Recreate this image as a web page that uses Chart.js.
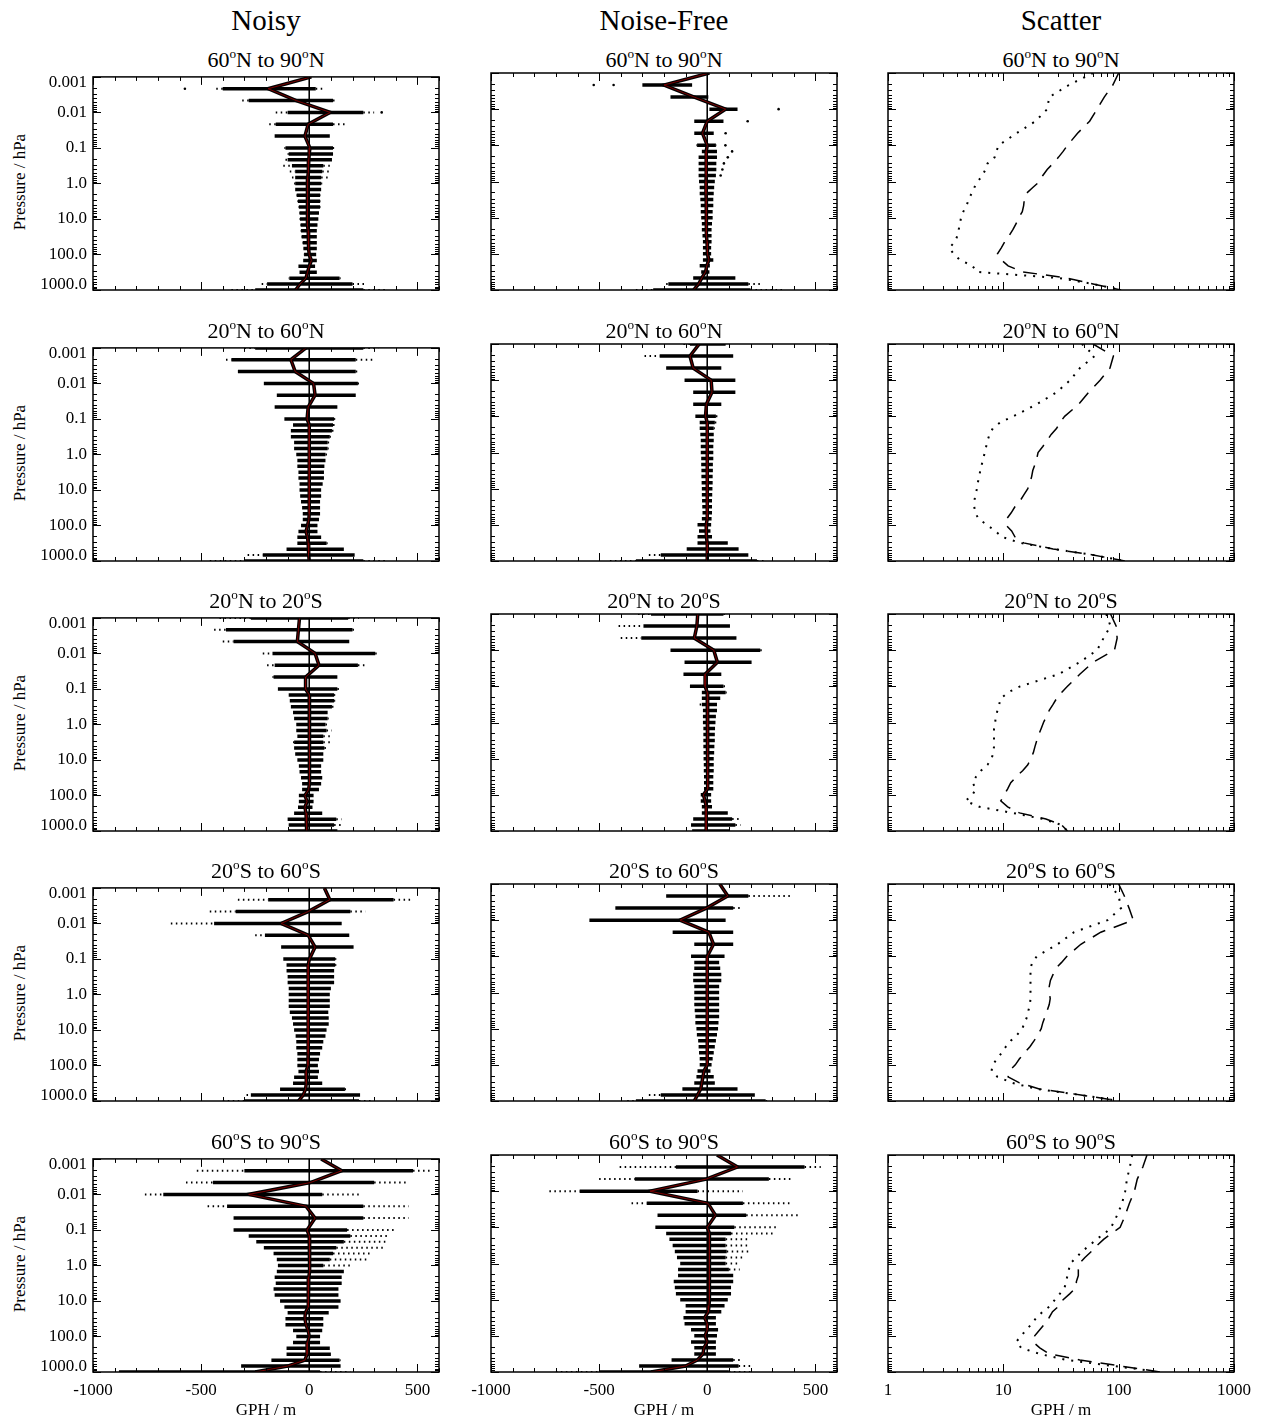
<!DOCTYPE html>
<html>
<head>
<meta charset="utf-8">
<script src="https://cdn.jsdelivr.net/npm/chart.js@4/dist/chart.umd.min.js"></script>
<style>
  html, body { margin: 0; padding: 0; background: #fff; }
  #page { position: relative; width: 1266px; height: 1420px; overflow: hidden;
          font-family: "Liberation Serif", "Times New Roman", serif; color: #000; }
  #page canvas { position: absolute; }
  .txt { position: absolute; white-space: nowrap; line-height: 1; transform: translateX(-50%); }
  .deg { font-size: 0.6em; vertical-align: 0.68em; }
  .ytitle { position: absolute; white-space: nowrap; line-height: 1; font-size: 17px;
            transform: translate(-50%, -50%) rotate(-90deg); }
</style>
</head>
<body>
<div id="page"></div>
<script>
// ---------------------------------------------------------------------------
// Pressure levels (hPa), from the top of the profile downwards
const LEVELS = [0.001, 0.00215, 0.00464, 0.01, 0.0215, 0.0464, 0.1, 0.147, 0.215, 0.316,
  0.464, 0.681, 1.0, 1.47, 2.15, 3.16, 4.64, 6.81, 10, 14.7, 21.5, 31.6, 46.4, 68.1,
  100, 147, 215, 316, 464, 681, 1000];

const COLUMN_TITLES = ['Noisy', 'Noise-Free', 'Scatter'];
// latitude bands: [lat1, hemisphere1, lat2, hemisphere2]
const BANDS = [['60', 'N', '90', 'N'], ['20', 'N', '60', 'N'], ['20', 'N', '20', 'S'],
  ['20', 'S', '60', 'S'], ['60', 'S', '90', 'S']];

const Y_TICK_LABELS = ['0.001', '0.01', '0.1', '1.0', '10.0', '100.0', '1000.0'];
const GPH_TICK_LABELS = ['-1000', '-500', '0', '500'];
const SCATTER_TICK_LABELS = ['1', '10', '100', '1000'];

// Mean GPH difference profiles (m), one value per level
const noisyMean6090N = [10, -190, -60, 97, -5, -20, 3, 0, -2, -3, -5, -7, -10, -10, -9, -8, -8, -8, -8, -6, -5, -4, -3, -2, 0, 10, 0, -8, -15, -43, -63];
const freeMean6090N = [10, -200, -60, 85, 0, -22, 0, -5, -5, -5, -5, -5, -6, -6, -6, -5, -5, -5, -5, -4, -3, -2, -1, 0, 2, 8, -2, -8, -25, -40, -63];
const noisyMean2060N = [-15, -85, -65, 20, 27, -5, -10, 0, 0, 0, 0, 0, 0, 0, 0, 0, 0, 0, 0, 0, 0, 0, 0, -2, -8, -15, -8, -5, -3, -2, 0];
const freeMean2060N = [-37, -80, -65, 18, 22, -4, -8, 0, 0, 0, 0, 0, 0, 0, 0, 0, 0, 0, 0, 0, 0, 0, 0, 0, -5, -5, -3, 0, 0, 0, 0];
const noisyMean20N20S = [-45, -50, -55, 27, 45, -17, -17, 0, 2, 3, 3, 3, 2, 2, 1, 0, 0, 0, 0, 0, 0, 0, 0, -3, -20, -10, -20, -15, -12, -12, -12];
const freeMean20N20S = [-44, -48, -60, 30, 47, -10, -10, 0, 2, 2, 2, 2, 2, 2, 2, 2, 2, 2, 2, 2, 2, 2, 1, 0, -18, -10, -5, -5, -5, -5, -5];
const noisyMean2060S = [70, 95, -5, -130, -5, 27, 1, -5, -5, -5, -5, -5, -5, -5, -5, -5, -5, -5, -5, -5, -5, -5, -5, -6, -6, -15, -12, -15, -17, -28, -50];
const freeMean2060S = [58, 95, -4, -126, 7, 29, 0, 0, 0, 0, 0, 0, 0, 0, 0, 0, 0, 0, 0, 0, 0, 0, 0, 0, 0, -15, -20, -25, -30, -45, -60];
const noisyMean6090S = [55, 150, 5, -280, -15, 27, -10, 0, 2, 2, 2, 2, 2, 0, -2, -5, -5, -5, -2, -5, -18, -20, -15, -5, 0, -8, -10, -10, -20, -100, -250];
const freeMean6090S = [45, 140, -5, -265, 3, 38, 0, 10, 10, 10, 10, 10, 10, 10, 10, 10, 10, 10, 10, 8, 5, -12, 0, 0, -10, 0, -15, -20, -45, -100, -260];

// Spread of the individual differences at each level (m):
// [outermost low, dense low, dense high, outermost high]; null where none are drawn
const noisySpread6090N = [null, [-430, -400, 30, 60], [-310, -280, 110, 120], [-155, -100, 250, 300],
  [-185, -155, 110, 175], [-160, -160, 95, 95], [-115, -110, 110, 115], [-100, -95, 110, 110],
  [-110, -100, 105, 105], [-120, -80, 65, 95], [-90, -65, 60, 95], [-80, -65, 55, 95],
  [-70, -65, 55, 60], [-65, -65, 55, 55], [-60, -58, 50, 52], [-55, -52, 50, 52], [-50, -48, 50, 52],
  [-47, -45, 45, 45], [-45, -43, 42, 42], [-42, -40, 38, 38], [-40, -38, 35, 35], [-37, -35, 35, 35],
  [-32, -30, 35, 35], [-28, -27, 35, 35], [-25, -24, 32, 32], [-28, -28, 35, 35], [-50, -50, 27, 27],
  [-45, -45, 35, 35], [-95, -92, 140, 145], [-220, -195, 200, 260], [-360, -250, 250, 360]];
const freeSpread6090N = [null, [-300, -300, -70, -70], [-170, -170, 5, 5], [10, 10, 140, 140],
  [-60, -60, 75, 75], [-60, -60, 30, 30], [-50, -47, 40, 42], [-25, -25, 45, 45], [-40, -40, 45, 45],
  [-40, -40, 42, 42], [-40, -40, 42, 42], [-40, -40, 40, 40], [-38, -38, 35, 35], [-35, -35, 32, 32],
  [-35, -35, 30, 30], [-32, -32, 28, 28], [-30, -30, 28, 28], [-30, -30, 25, 25], [-28, -28, 25, 25],
  [-25, -25, 22, 22], [-25, -25, 20, 20], [-22, -22, 20, 20], [-20, -20, 20, 20], [-20, -20, 18, 18],
  [-20, -20, 18, 18], [-20, -20, 28, 28], [-35, -35, 12, 12], [-28, -28, 10, 10], [-65, -65, 130, 130],
  [-190, -180, 190, 255], [-330, -250, 200, 355]];
const noisySpread2060N = [[-300, -250, 250, 320], [-385, -360, 215, 295], [-330, -330, 215, 235],
  [-210, -210, 225, 230], [-150, -150, 215, 215], [-160, -160, 130, 130], [-115, -115, 115, 120],
  [-75, -75, 110, 125], [-85, -85, 105, 115], [-85, -85, 95, 100], [-70, -70, 85, 95], [-70, -70, 85, 90],
  [-60, -60, 75, 85], [-55, -55, 75, 75], [-55, -55, 70, 70], [-50, -50, 68, 68], [-50, -50, 68, 68],
  [-45, -45, 62, 62], [-45, -45, 55, 55], [-42, -42, 55, 55], [-38, -38, 50, 50], [-33, -33, 50, 50],
  [-30, -30, 50, 50], [-30, -30, 45, 45], [-38, -38, 38, 38], [-50, -50, 38, 38], [-55, -55, 55, 55],
  [-55, -55, 80, 85], [-105, -105, 160, 160], [-285, -215, 210, 210], [-460, -300, 250, 360]];
const freeSpread2060N = [[-110, -80, 85, 85], [-290, -220, 120, 120], [-190, -190, 65, 65],
  [-105, -105, 130, 130], [-65, -65, 130, 130], [-65, -65, 65, 65], [-55, -55, 40, 50], [-35, -35, 35, 45],
  [-35, -35, 30, 35], [-32, -32, 30, 30], [-30, -30, 30, 30], [-30, -30, 28, 28], [-30, -30, 28, 28],
  [-28, -28, 28, 28], [-28, -28, 26, 26], [-27, -27, 26, 26], [-27, -27, 25, 25], [-26, -26, 25, 25],
  [-25, -25, 24, 24], [-25, -25, 23, 23], [-24, -24, 22, 22], [-23, -23, 22, 22], [-22, -22, 22, 22],
  [-25, -25, 20, 20], [-45, -45, 18, 18], [-38, -38, 15, 15], [-45, -45, 22, 22], [-45, -45, 95, 95],
  [-95, -95, 145, 145], [-270, -215, 190, 190], [-450, -330, 230, 270]];
const noisySpread20N20S = [[-415, -270, 180, 230], [-440, -385, 200, 210], [-400, -350, 185, 185],
  [-215, -170, 305, 315], [-195, -160, 225, 270], [-170, -165, 130, 130], [-145, -145, 130, 140],
  [-95, -95, 115, 120], [-90, -90, 115, 120], [-85, -85, 105, 125], [-75, -75, 85, 85], [-70, -70, 85, 90],
  [-60, -60, 75, 90], [-60, -60, 80, 105], [-55, -55, 65, 95], [-75, -70, 65, 110], [-70, -70, 70, 90],
  [-65, -65, 65, 65], [-55, -55, 65, 65], [-48, -48, 55, 55], [-45, -45, 55, 55], [-38, -38, 60, 60],
  [-33, -33, 55, 55], [-33, -33, 45, 45], [-48, -48, 20, 20], [-48, -48, 20, 20], [-52, -52, 15, 15],
  [-70, -70, 60, 60], [-100, -100, 125, 150], [-95, -95, 115, 160], [-95, -95, 130, 130]];
const freeSpread20N20S = [[-320, -260, 75, 85], [-410, -295, 105, 105], [-400, -305, 135, 135],
  [-170, -170, 245, 255], [-105, -105, 205, 205], [-110, -110, 65, 65], [-80, -80, 75, 85],
  [-25, -25, 85, 90], [-25, -25, 60, 60], [-35, -25, 45, 45], [-20, -20, 45, 45], [-20, -20, 40, 40],
  [-20, -20, 38, 38], [-18, -18, 36, 36], [-18, -18, 35, 35], [-18, -18, 35, 35], [-18, -18, 33, 33],
  [-17, -17, 32, 32], [-17, -17, 30, 30], [-16, -16, 30, 30], [-16, -16, 30, 30], [-15, -15, 28, 28],
  [-15, -15, 28, 28], [-15, -15, 28, 28], [-30, -30, 18, 18], [-30, -30, 18, 18], [-25, -25, 22, 22],
  [-25, -25, 95, 95], [-65, -65, 115, 160], [-75, -75, 130, 155], [-70, -70, 105, 105]];
const noisySpread2060S = [null, [-330, -190, 390, 470], [-460, -340, 190, 260], [-640, -440, 150, 150],
  [-250, -205, 185, 185], [-130, -130, 205, 205], [-120, -120, 120, 125], [-105, -105, 120, 125],
  [-105, -105, 115, 115], [-100, -100, 115, 115], [-100, -100, 115, 115], [-95, -95, 100, 100],
  [-95, -95, 95, 95], [-95, -95, 95, 95], [-95, -95, 95, 95], [-90, -90, 88, 88], [-80, -80, 90, 90],
  [-75, -75, 90, 90], [-70, -70, 80, 80], [-63, -63, 75, 75], [-60, -60, 65, 65], [-60, -60, 60, 60],
  [-55, -55, 50, 50], [-55, -55, 45, 45], [-55, -55, 40, 40], [-50, -50, 45, 45], [-70, -70, 40, 40],
  [-75, -75, 60, 60], [-135, -135, 165, 170], [-290, -270, 235, 235], [-400, -300, 230, 290]];
const freeSpread2060S = [null, [-190, -190, 190, 385], [-425, -425, 120, 150], [-545, -545, 85, 85],
  [-160, -160, 120, 120], [-60, -60, 120, 120], [-75, -75, 80, 80], [-60, -60, 55, 55], [-60, -60, 60, 60],
  [-65, -65, 65, 65], [-65, -65, 65, 65], [-60, -60, 55, 55], [-60, -60, 55, 55], [-60, -60, 55, 55],
  [-60, -60, 55, 55], [-58, -58, 55, 55], [-55, -55, 55, 55], [-55, -55, 52, 52], [-50, -50, 50, 50],
  [-48, -48, 45, 45], [-42, -42, 40, 40], [-40, -40, 35, 35], [-38, -38, 30, 30], [-35, -35, 25, 25],
  [-35, -35, 20, 20], [-45, -45, 15, 15], [-50, -50, 30, 30], [-60, -60, 35, 35], [-115, -115, 140, 140],
  [-270, -215, 220, 220], [-370, -330, 270, 280]];
const noisySpread6090S = [null, [-520, -300, 480, 570], [-570, -445, 300, 450], [-760, -675, 60, 235],
  [-470, -380, 250, 460], [-350, -350, 250, 460], [-350, -350, 175, 400], [-280, -280, 190, 360],
  [-245, -245, 160, 360], [-210, -210, 125, 340], [-165, -165, 110, 285], [-150, -150, 95, 275],
  [-145, -145, 65, 190], [-150, -150, 160, 160], [-160, -160, 150, 150], [-155, -155, 150, 150],
  [-165, -165, 135, 135], [-160, -160, 135, 135], [-135, -135, 145, 145], [-115, -115, 135, 135],
  [-100, -100, 90, 90], [-110, -110, 65, 65], [-110, -110, 65, 65], [-75, -75, 60, 60], [-60, -60, 50, 50],
  [-75, -75, 50, 50], [-105, -105, 95, 95], [-105, -105, 100, 100], [-175, -175, 140, 145],
  [-315, -315, 145, 145], [-880, -880, 50, 190]];
const freeSpread6090S = [null, [-405, -145, 450, 525], [-500, -335, 285, 390], [-730, -590, -45, 165],
  [-350, -280, 165, 380], [-230, -230, 180, 425], [-240, -240, 125, 325], [-190, -190, 110, 310],
  [-175, -175, 85, 200], [-160, -160, 85, 200], [-150, -150, 90, 190], [-140, -140, 85, 175],
  [-125, -125, 85, 150], [-135, -135, 100, 150], [-135, -135, 120, 120], [-155, -155, 120, 120],
  [-150, -150, 110, 110], [-145, -145, 110, 110], [-125, -125, 95, 95], [-100, -100, 80, 80],
  [-100, -100, 65, 65], [-110, -110, 40, 40], [-105, -105, 40, 40], [-75, -75, 50, 50], [-60, -60, 45, 45],
  [-75, -75, 40, 40], [-60, -60, 40, 40], [-60, -60, 40, 40], [-165, -165, 120, 150],
  [-315, -315, 145, 200], [-700, -500, 100, 200]];

// Isolated individual differences: [GPH (m), pressure (hPa)]
const noisyOut6090N = [[-575, 0.00215], [335, 0.01]];
const freeOut6090N = [[-525, 0.00215], [-433, 0.00215], [330, 0.01], [187, 0.0215], [85, 0.0464],
  [84, 0.1], [115, 0.147], [95, 0.215], [77, 0.316], [70, 0.464], [62, 0.681]];

// Scatter (standard deviation, m) of the noisy and noise-free differences
const noisyScatter6090N = [100, 89, 75, 65, 56, 44, 36, 33, 30, 27, 24, 22, 20.6, 18, 15.8, 15.2, 15, 14.6, 13.6, 12.9, 12.1, 11.2, 10.3, 9.6, 8.9, 9.6, 11, 14.8, 35, 60, 105];
const freeScatter6090N = [60, 37, 25, 24, 19, 13, 9.1, 8.7, 8.4, 7.3, 7.0, 6.6, 6.0, 5.6, 5.3, 5.0, 4.8, 4.5, 4.3, 4.2, 4.1, 4.0, 3.8, 3.4, 3.7, 4.2, 5.4, 5.9, 30, 60, 105];
const noisyScatter2060N = [60, 90, 84, 69, 55, 45, 34, 31, 29, 26, 24, 22, 20, 19.5, 18.8, 18, 17.6, 17, 16.3, 15.1, 14, 12.6, 11.7, 10.7, 10.5, 11.8, 12.6, 15, 27, 60, 113];
const freeScatter2060N = [48, 62, 46, 38, 29, 19.5, 12.2, 9.4, 8.1, 7.6, 7.3, 7.1, 6.9, 6.7, 6.5, 6.3, 6.2, 6.0, 5.9, 5.75, 5.6, 5.6, 5.7, 6.1, 7.2, 8.5, 9.7, 14, 27, 60, 113];
const noisyScatter20N20S = [85, 95, 97, 92, 60, 46, 36, 32, 29, 27, 25, 23.6, 22.3, 21.3, 20.3, 19.5, 18.8, 18.2, 17.3, 16.3, 14.7, 12.9, 11.6, 10.9, 10.2, 9.5, 10.9, 13.8, 23.4, 32, 36];
const freeScatter20N20S = [78, 85, 74, 65, 46, 30, 14, 11, 9.5, 9.2, 8.9, 8.6, 8.5, 8.3, 8.3, 8.3, 8.3, 8.2, 7.9, 7.3, 6.4, 5.8, 5.4, 5.8, 5.4, 4.7, 6.2, 12, 22, 32, 36];
const noisyScatter2060S = [100, 112, 123, 134, 70, 47, 35.6, 32, 28.6, 27, 25.6, 25, 25, 25.5, 25, 24, 23, 22, 21.3, 20, 18.5, 17, 15.3, 13.8, 12.7, 11.3, 11, 13.8, 20.5, 47, 101];
const freeScatter2060S = [83, 100, 105, 80, 41, 29.5, 19.5, 17.8, 17.2, 17.2, 17.2, 17.2, 17.2, 17.2, 17, 16.5, 16.1, 15.3, 14.6, 13.2, 11.6, 10.5, 9.7, 8.8, 8.1, 7.9, 8.9, 12, 19.4, 47, 101];
const noisyScatter6090S = [176, 162, 145, 137, 124, 114, 103, 87, 74, 65, 58, 51, 45.7, 44.7, 44.7, 43, 42.7, 37.8, 33, 30.5, 26.7, 24.9, 22.9, 20.7, 18.7, 18.1, 20.7, 25, 46, 103, 230];
const freeScatter6090S = [131, 125, 118, 114, 107, 97, 86, 76, 64, 56, 48, 43, 38, 37, 36, 35, 34, 31, 28, 25.6, 22, 19.3, 17.7, 15.8, 14.3, 12.9, 14.3, 20.6, 35, 90, 230];

// ---------------------------------------------------------------------------
// Panel grid and styling
const COL_LEFT = [93, 491, 888];
const ROW_TOP = [73, 344, 614, 884, 1155];
const PW = 346, PH = 217;                 // plot area size
const ML = 93, MR = 30, MT = 14, MB = 34; // canvas margins around the plot area
const FONT = '"Liberation Serif", "Times New Roman", serif';

const ROWS = [
  { noisy: [noisyMean6090N, noisySpread6090N, noisyOut6090N], free: [freeMean6090N, freeSpread6090N, freeOut6090N],
    scatter: [noisyScatter6090N, freeScatter6090N] },
  { noisy: [noisyMean2060N, noisySpread2060N, []], free: [freeMean2060N, freeSpread2060N, []],
    scatter: [noisyScatter2060N, freeScatter2060N] },
  { noisy: [noisyMean20N20S, noisySpread20N20S, []], free: [freeMean20N20S, freeSpread20N20S, []],
    scatter: [noisyScatter20N20S, freeScatter20N20S] },
  { noisy: [noisyMean2060S, noisySpread2060S, []], free: [freeMean2060S, freeSpread2060S, []],
    scatter: [noisyScatter2060S, freeScatter2060S] },
  { noisy: [noisyMean6090S, noisySpread6090S, []], free: [freeMean6090S, freeSpread6090S, []],
    scatter: [noisyScatter6090S, freeScatter6090S] }
];

Chart.defaults.font.family = FONT;
Chart.defaults.font.size = 17;
Chart.defaults.color = '#000';

const page = document.getElementById('page');

// ---------------------------------------------------------------------------
// Tick helpers
const isDecade = v => Math.abs(Math.log10(v) - Math.round(Math.log10(v))) < 1e-6;
const isGphMajor = v => v % 500 === 0;

function logTicks(lo, hi) {
  const ticks = [];
  for (let e = Math.round(Math.log10(lo)); e <= Math.round(Math.log10(hi)); e++) {
    for (let m = 1; m <= 9; m++) {
      const v = +(m * Math.pow(10, e)).toPrecision(6);
      if (v >= lo && v <= hi) ticks.push({ value: v, major: m === 1 });
    }
  }
  return ticks;
}
function gphTicks() {
  const ticks = [];
  for (let v = -1000; v <= 600; v += 100) ticks.push({ value: v, major: isGphMajor(v) });
  return ticks;
}

// Pressure labels; the end labels are nudged inside the frame (blank first/last line)
function pressureLabel(v) {
  if (!isDecade(v)) return '';
  const k = Math.round(Math.log10(v)) + 3;
  const s = Y_TICK_LABELS[k];
  if (k === 0) return ['', s];
  if (k === Y_TICK_LABELS.length - 1) return [s, ''];
  return s;
}

// Frame with inward tick marks on all four sides, taken from the scales' ticks
function frameTicks(xMajor) {
  return {
    id: 'frameTicks',
    afterDraw(chart) {
      const { ctx, chartArea: a, scales: { x, y } } = chart;
      ctx.save();
      ctx.strokeStyle = '#000';
      ctx.lineWidth = 1;
      ctx.beginPath();
      x.ticks.forEach(t => {
        const px = Math.round(x.getPixelForValue(t.value)) + 0.5;
        const len = xMajor(t.value) ? 8 : 4;
        ctx.moveTo(px, a.bottom); ctx.lineTo(px, a.bottom - len);
        ctx.moveTo(px, a.top); ctx.lineTo(px, a.top + len);
      });
      y.ticks.forEach(t => {
        const py = Math.round(y.getPixelForValue(t.value)) + 0.5;
        const len = isDecade(t.value) ? 8 : 4;
        ctx.moveTo(a.left, py); ctx.lineTo(a.left + len, py);
        ctx.moveTo(a.right, py); ctx.lineTo(a.right - len, py);
      });
      ctx.stroke();
      ctx.lineWidth = 1.5;
      ctx.strokeRect(a.left, a.top, a.right - a.left, a.bottom - a.top);
      ctx.restore();
    }
  };
}

// ---------------------------------------------------------------------------
// Data builders
function profile(values) { return values.map((v, i) => ({ x: v, y: LEVELS[i] })); }

function segments(spread, lo, hi) {
  const pts = [];
  spread.forEach((s, i) => {
    if (!s || s[lo] === s[hi]) return;
    pts.push({ x: s[lo], y: LEVELS[i] }, { x: s[hi], y: LEVELS[i] }, { x: NaN, y: NaN });
  });
  return pts;
}

function gphDatasets(mean, spread, outliers) {
  return [
    { data: profile(mean), borderColor: '#7a0000', borderWidth: 1, order: 0 },
    { data: profile(mean), borderColor: '#000', borderWidth: 3.5, order: 1 },
    { data: [{ x: 0, y: 0.001 }, { x: 0, y: 1000 }], borderColor: '#000', borderWidth: 1, order: 2 },
    { data: outliers.map(([g, p]) => ({ x: g, y: p })), showLine: false, pointRadius: 1.3,
      pointBackgroundColor: '#000', pointBorderWidth: 0, order: 3 },
    { data: segments(spread, 1, 2), borderColor: '#000', borderWidth: 3.5, order: 4 },
    { data: segments(spread, 0, 1).concat(segments(spread, 2, 3)), borderColor: '#000',
      borderWidth: 2, borderDash: [1.5, 3.5], order: 5 }
  ].map(d => Object.assign({ showLine: true, pointRadius: 0, tension: 0, spanGaps: false }, d));
}

function scatterDatasets(noisy, free) {
  return [
    { data: profile(free), borderColor: '#000', borderWidth: 2, borderDash: [2, 7], order: 0 },
    { data: profile(noisy), borderColor: '#000', borderWidth: 1.5, borderDash: [14, 9], order: 1 }
  ].map(d => Object.assign({ showLine: true, pointRadius: 0, tension: 0 }, d));
}

// ---------------------------------------------------------------------------
function makePanel(col, row, datasets) {
  const logX = col === 2;
  const canvas = document.createElement('canvas');
  canvas.width = ML + PW + MR;
  canvas.height = MT + PH + MB;
  canvas.style.left = (COL_LEFT[col] - ML) + 'px';
  canvas.style.top = (ROW_TOP[row] - MT) + 'px';
  canvas.style.width = canvas.width + 'px';
  canvas.style.height = canvas.height + 'px';
  page.appendChild(canvas);

  const xLabels = logX ? SCATTER_TICK_LABELS : GPH_TICK_LABELS;
  const xMajor = logX ? isDecade : isGphMajor;

  new Chart(canvas, {
    type: 'scatter',
    data: { datasets },
    options: {
      responsive: false,
      animation: false,
      events: [],
      layout: { padding: { left: 0, right: MR, top: MT, bottom: 0 } },
      plugins: { legend: { display: false }, tooltip: { enabled: false } },
      scales: {
        x: {
          type: logX ? 'logarithmic' : 'linear',
          min: logX ? 1 : -1000,
          max: logX ? 1000 : 600,
          grid: { display: false, drawTicks: false },
          border: { display: false },
          afterBuildTicks: s => { s.ticks = logX ? logTicks(1, 1000) : gphTicks(); },
          afterFit: s => { s.height = MB; },
          ticks: {
            display: row === 4,
            autoSkip: false, maxRotation: 0, minRotation: 0, padding: 8,
            font: { size: 17 },
            callback: v => {
              if (!xMajor(v)) return '';
              const idx = logX ? Math.round(Math.log10(v)) : Math.round((v + 1000) / 500);
              return xLabels[idx] ?? '';
            }
          }
        },
        y: {
          type: 'logarithmic',
          reverse: true,
          min: 0.001,
          max: 1000,
          grid: { display: false, drawTicks: false },
          border: { display: false },
          afterBuildTicks: s => { s.ticks = logTicks(0.001, 1000); },
          afterFit: s => { s.width = ML; },
          ticks: {
            display: col === 0,
            autoSkip: false, padding: 6,
            font: { size: 17, lineHeight: 0.7 },
            callback: pressureLabel
          }
        }
      }
    },
    plugins: [frameTicks(xMajor)]
  });
}

// ---------------------------------------------------------------------------
// Text: column headings, latitude-band titles, axis titles
function addText(html, cls, styles) {
  const d = document.createElement('div');
  d.className = cls;
  d.innerHTML = html;
  Object.assign(d.style, styles);
  page.appendChild(d);
}
const bandTitle = b => `${b[0]}<span class="deg">o</span>${b[1]} to ${b[2]}<span class="deg">o</span>${b[3]}`;

COLUMN_TITLES.forEach((t, c) => {
  addText(t, 'txt', { left: (COL_LEFT[c] + PW / 2) + 'px', top: '6px', fontSize: '29px' });
});

ROWS.forEach((r, ri) => {
  for (let c = 0; c < 3; c++) {
    addText(bandTitle(BANDS[ri]), 'txt',
      { left: (COL_LEFT[c] + PW / 2) + 'px', top: (ROW_TOP[ri] - 8 - 18.4) + 'px', fontSize: '22px' });
  }
  addText('Pressure / hPa', 'ytitle', { left: '19px', top: (ROW_TOP[ri] + PH / 2) + 'px' });

  makePanel(0, ri, gphDatasets(...r.noisy));
  makePanel(1, ri, gphDatasets(...r.free));
  makePanel(2, ri, scatterDatasets(...r.scatter));
});

for (let c = 0; c < 3; c++) {
  addText('GPH / m', 'txt', { left: (COL_LEFT[c] + PW / 2) + 'px', top: '1401px', fontSize: '17px' });
}
</script>
</body>
</html>
